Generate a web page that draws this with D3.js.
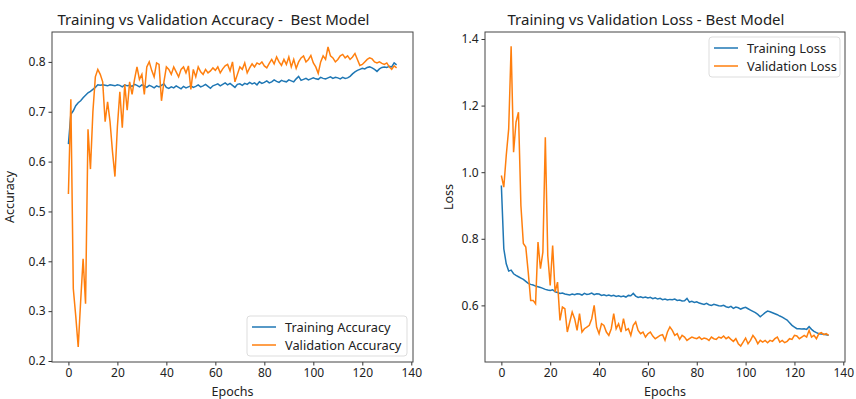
<!DOCTYPE html>
<html>
<head>
<meta charset="utf-8">
<script src="https://cdn.jsdelivr.net/npm/d3@7"></script>
<style>
  body { margin: 0; background: #fff; }
  text { font-family: "Noto Sans", "DejaVu Sans", sans-serif; fill: #222; }
</style>
</head>
<body>
<div id="grafica"></div>
<script>
// epochs 0..134
var epochs = d3.range(0, 135);

var trainAcc = [
  0.635, 0.695, 0.702, 0.712, 0.718, 0.722, 0.728, 0.733, 0.738, 0.741,
  0.745, 0.749, 0.754, 0.753, 0.754, 0.753, 0.752, 0.754, 0.753, 0.752,
  0.754, 0.753, 0.750, 0.754, 0.752, 0.753, 0.751, 0.755, 0.753, 0.750,
  0.754, 0.752, 0.749, 0.753, 0.751, 0.748, 0.752, 0.750, 0.753, 0.756,
  0.749, 0.747, 0.750, 0.748, 0.752, 0.749, 0.746, 0.751, 0.748, 0.750,
  0.752, 0.749, 0.751, 0.754, 0.750, 0.752, 0.755, 0.751, 0.747, 0.752,
  0.754, 0.756, 0.752, 0.755, 0.758, 0.754, 0.757, 0.753, 0.749, 0.755,
  0.756, 0.753, 0.757, 0.755, 0.759, 0.756, 0.758, 0.754, 0.760, 0.757,
  0.759, 0.762, 0.758, 0.760, 0.764, 0.761, 0.759, 0.763, 0.761, 0.760,
  0.764, 0.762, 0.760, 0.766, 0.771, 0.763, 0.765, 0.767, 0.764, 0.766,
  0.768, 0.766, 0.765, 0.769, 0.767, 0.766, 0.768, 0.770, 0.767, 0.769,
  0.768, 0.766, 0.769, 0.767, 0.768, 0.771, 0.776, 0.780, 0.783, 0.785,
  0.787, 0.786, 0.789, 0.790, 0.788, 0.785, 0.781, 0.786, 0.789, 0.790,
  0.789, 0.791, 0.790, 0.798, 0.794
];

var valAcc = [
  0.535, 0.725, 0.345, 0.290, 0.228, 0.320, 0.405, 0.315, 0.665, 0.585,
  0.700, 0.770, 0.785, 0.775, 0.760, 0.680, 0.720, 0.680, 0.620, 0.570,
  0.670, 0.740, 0.668, 0.755, 0.703, 0.760, 0.735, 0.765, 0.790, 0.765,
  0.775, 0.735, 0.790, 0.800, 0.783, 0.770, 0.798, 0.795, 0.722, 0.760,
  0.790, 0.785, 0.775, 0.790, 0.780, 0.770, 0.785, 0.790, 0.778, 0.792,
  0.745, 0.785, 0.770, 0.790, 0.780, 0.775, 0.785, 0.778, 0.782, 0.788,
  0.783, 0.790, 0.778, 0.786, 0.792, 0.795, 0.782, 0.800, 0.760, 0.775,
  0.790, 0.785, 0.798, 0.778, 0.788, 0.796, 0.790, 0.798, 0.795, 0.800,
  0.792, 0.788, 0.797, 0.805, 0.796, 0.810, 0.800, 0.793, 0.805, 0.795,
  0.810, 0.790, 0.805, 0.787, 0.800, 0.808, 0.812, 0.800, 0.805, 0.813,
  0.798, 0.790, 0.777, 0.800, 0.812, 0.805, 0.830, 0.812, 0.808, 0.800,
  0.805, 0.812, 0.815, 0.808, 0.812, 0.805, 0.810, 0.817, 0.805, 0.793,
  0.795, 0.800, 0.805, 0.808, 0.806, 0.800, 0.798, 0.800, 0.797, 0.795,
  0.798, 0.790, 0.785, 0.792, 0.788
];

var trainLoss = [
  0.960, 0.770, 0.725, 0.703, 0.706, 0.695, 0.690, 0.686, 0.682, 0.678,
  0.672, 0.666, 0.663, 0.661, 0.658, 0.656, 0.654, 0.651, 0.648, 0.646,
  0.645, 0.647, 0.641, 0.639, 0.636, 0.637, 0.634, 0.633, 0.631, 0.634,
  0.632, 0.635, 0.634, 0.631, 0.636, 0.633, 0.634, 0.637, 0.632, 0.635,
  0.634, 0.630, 0.632, 0.629, 0.631, 0.628, 0.630, 0.627, 0.629, 0.626,
  0.628, 0.625, 0.630, 0.629, 0.636, 0.628, 0.624, 0.626, 0.623, 0.625,
  0.622, 0.624, 0.620, 0.623, 0.619, 0.621, 0.617, 0.619, 0.616, 0.618,
  0.617, 0.619, 0.615, 0.616, 0.613, 0.614, 0.621, 0.610, 0.612, 0.609,
  0.611, 0.607, 0.605, 0.603, 0.606, 0.602, 0.600, 0.603, 0.601, 0.599,
  0.598, 0.600, 0.596, 0.594, 0.597, 0.591, 0.595, 0.593, 0.589, 0.592,
  0.594, 0.590, 0.586, 0.582, 0.578, 0.573, 0.566, 0.572, 0.578, 0.583,
  0.581, 0.578, 0.575, 0.572, 0.568, 0.565, 0.560, 0.556, 0.548, 0.540,
  0.535, 0.530, 0.530, 0.529, 0.530, 0.528, 0.536, 0.528, 0.522, 0.518,
  0.515, 0.514, 0.513, 0.512, 0.510
];

var valLoss = [
  0.990, 0.955, 1.050, 1.130, 1.378, 1.060, 1.150, 1.180, 0.900, 0.786,
  0.775, 0.700, 0.615, 0.615, 0.605, 0.790, 0.710, 0.760, 1.105, 0.750,
  0.660, 0.780, 0.640, 0.670, 0.555, 0.595, 0.590, 0.520, 0.550, 0.580,
  0.560, 0.525, 0.575, 0.520, 0.530, 0.535, 0.540, 0.560, 0.600, 0.535,
  0.515, 0.545, 0.540, 0.520, 0.510, 0.530, 0.575, 0.530, 0.545, 0.520,
  0.560, 0.525, 0.530, 0.510, 0.540, 0.550, 0.525, 0.515, 0.520, 0.505,
  0.515, 0.520, 0.508, 0.500, 0.505, 0.510, 0.512, 0.495, 0.520, 0.535,
  0.525, 0.510, 0.515, 0.498, 0.510, 0.505, 0.495, 0.500, 0.505, 0.502,
  0.500, 0.505, 0.498, 0.502, 0.500, 0.495, 0.505, 0.500, 0.498, 0.505,
  0.502, 0.508, 0.500, 0.505, 0.498, 0.492, 0.500, 0.485, 0.478, 0.490,
  0.502, 0.485, 0.495, 0.510, 0.500, 0.485, 0.495, 0.490, 0.495, 0.488,
  0.495, 0.492, 0.500, 0.505, 0.490, 0.495, 0.488, 0.492, 0.500, 0.498,
  0.510, 0.508, 0.500, 0.505, 0.510, 0.505, 0.525, 0.505, 0.510, 0.500,
  0.515, 0.518, 0.512, 0.515, 0.510
];

var xTicks = [0, 20, 40, 60, 80, 100, 120, 140];
var accTicks = [0.2, 0.3, 0.4, 0.5, 0.6, 0.7, 0.8];
var lossTicks = [0.6, 0.8, 1.0, 1.2, 1.4];

var blue = "#1f77b4", orange = "#ff7f0e";

var svg = d3.select("#grafica")
  .append("svg")
  .attr("width", 856)
  .attr("height", 399);

function panel(opt) {
  var g = svg.append("g").attr("transform", `translate(${opt.left},${opt.top})`);
  var w = opt.width, h = opt.height;

  // matplotlib-like 5% margins
  var x = d3.scaleLinear().domain([-6.7, 140.7]).range([0, w]);
  var y = d3.scaleLinear().domain(opt.yDomain).range([h, 0]);

  // lines
  var line = d3.line()
    .x(function(d, i) { return x(epochs[i]); })
    .y(function(d) { return y(d); });

  g.append("path").datum(opt.train)
    .attr("fill", "none").attr("stroke", blue).attr("stroke-width", 1.5)
    .attr("d", line);
  g.append("path").datum(opt.val)
    .attr("fill", "none").attr("stroke", orange).attr("stroke-width", 1.5)
    .attr("d", line);

  // axes
  var xAxis = g.append("g")
    .attr("transform", `translate(0,${h})`)
    .call(d3.axisBottom(x).tickValues(xTicks).tickSize(3.5).tickPadding(3).tickFormat(d3.format("d")));
  var yAxis = g.append("g")
    .call(d3.axisLeft(y).tickValues(opt.yTicks).tickSize(3.5).tickPadding(3).tickFormat(d3.format(".1f")));
  [xAxis, yAxis].forEach(function(a) {
    a.select(".domain").remove();
    a.selectAll("line").attr("stroke", "#333");
    a.selectAll("text").style("font-size", "12px").attr("fill", "#333");
  });

  // frame
  g.append("rect")
    .attr("width", w).attr("height", h)
    .attr("fill", "none").attr("stroke", "#444").attr("stroke-width", 1);

  // title and labels (titles sit a little left of the frame centre)
  g.append("text")
    .attr("x", w / 2 - 19).attr("y", -7)
    .style("text-anchor", "middle").style("font-size", "15px")
    .attr("xml:space", "preserve")
    .text(opt.title);
  g.append("text")
    .attr("x", w / 2).attr("y", h + 34)
    .style("text-anchor", "middle").style("font-size", "12.5px")
    .text("Epochs");
  g.append("text")
    .attr("transform", "rotate(-90)")
    .attr("x", -h / 2).attr("y", opt.yLabelX)
    .style("text-anchor", "middle").style("font-size", "12.5px")
    .text(opt.yLabel);

  // legend
  var lg = g.append("g").attr("transform", `translate(${opt.legend[0]},${opt.legend[1]})`);
  lg.append("rect")
    .attr("width", opt.legend[2]).attr("height", 40).attr("rx", 3)
    .attr("fill", "#fff").attr("fill-opacity", 0.8)
    .attr("stroke", "#ddd");
  [[opt.names[0], blue], [opt.names[1], orange]].forEach(function(e, i) {
    lg.append("line")
      .attr("x1", 5).attr("x2", 29)
      .attr("y1", 11 + i * 18).attr("y2", 11 + i * 18)
      .attr("stroke", e[1]).attr("stroke-width", 1.5);
    lg.append("text")
      .attr("x", 38).attr("y", 15.5 + i * 18)
      .style("font-size", "12.8px")
      .text(e[0]);
  });
}

panel({
  left: 52, top: 32, width: 361, height: 330,
  yDomain: [0.198, 0.86], yTicks: accTicks,
  train: trainAcc, val: valAcc,
  title: "Training vs Validation Accuracy -  Best Model",
  yLabel: "Accuracy", yLabelX: -38,
  names: ["Training Accuracy", "Validation Accuracy"],
  legend: [195, 284, 160]
});

panel({
  left: 485, top: 32, width: 360, height: 330,
  yDomain: [0.43, 1.421], yTicks: lossTicks,
  train: trainLoss, val: valLoss,
  title: "Training vs Validation Loss - Best Model",
  yLabel: "Loss", yLabelX: -32,
  names: ["Training Loss", "Validation Loss"],
  legend: [224, 5, 131]
});
</script>
</body>
</html>
